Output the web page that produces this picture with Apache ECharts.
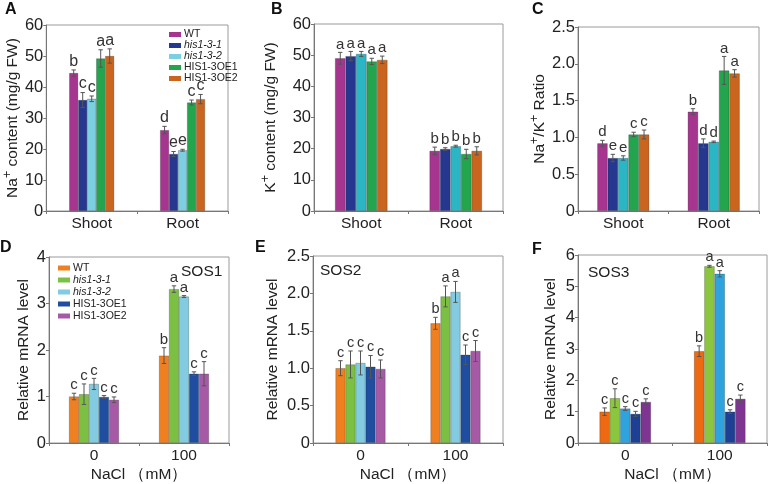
<!DOCTYPE html>
<html>
<head>
<meta charset="utf-8">
<script src="https://cdn.jsdelivr.net/npm/echarts@6/dist/echarts.min.js"></script>
<style>html,body{margin:0;padding:0;background:#fff}#c{width:769px;height:484px}</style>
</head>
<body>
<div id="c"></div>
<script>
// ---------- data ----------
const groups = ['WT', 'his1-3-1', 'his1-3-2', 'HIS1-3OE1', 'HIS1-3OE2'];
const tissues = ['Shoot', 'Root'];
const naclLevels = ['0', '100'];

// A: Na+ content (mg/g FW)
const naShoot = [44.5, 35.8, 36.2, 49.2, 50.0];
const naShootErr = [1.0, 2.4, 0.9, 2.8, 2.3];
const naRoot = [26.1, 18.4, 19.6, 35.0, 36.1];
const naRootErr = [1.2, 0.8, 0.3, 0.8, 1.5];
const naShootSig = ['b', 'c', 'c', 'a', 'a'];
const naRootSig = ['d', 'e', 'e', 'c', 'c'];

// B: K+ content (mg/g FW)
const kShoot = [49.0, 49.7, 50.4, 48.0, 48.5];
const kShootErr = [1.9, 1.5, 0.8, 1.0, 1.2];
const kRoot = [19.3, 19.9, 20.8, 18.3, 19.3];
const kRootErr = [1.2, 0.4, 0.3, 1.5, 1.3];
const kShootSig = ['a', 'a', 'a', 'a', 'a'];
const kRootSig = ['b', 'b', 'b', 'b', 'b'];

// C: Na+/K+ ratio
const ratioShoot = [0.92, 0.72, 0.72, 1.04, 1.04];
const ratioShootErr = [0.04, 0.05, 0.03, 0.03, 0.06];
const ratioRoot = [1.35, 0.92, 0.94, 1.91, 1.87];
const ratioRootErr = [0.04, 0.06, 0.01, 0.19, 0.05];
const ratioShootSig = ['d', 'e', 'e', 'c', 'c'];
const ratioRootSig = ['b', 'd', 'd', 'a', 'a'];

// D: SOS1 relative mRNA level
const sos1Ctrl = [1.00, 1.05, 1.27, 0.99, 0.93];
const sos1CtrlErr = [0.07, 0.22, 0.12, 0.03, 0.06];
const sos1Salt = [1.88, 3.31, 3.15, 1.49, 1.49];
const sos1SaltErr = [0.17, 0.07, 0.02, 0.04, 0.26];
const sos1CtrlSig = ['c', 'c', 'c', 'c', 'c'];
const sos1SaltSig = ['b', 'a', 'a', 'c', 'c'];

// E: SOS2 relative mRNA level
const sos2Ctrl = [1.00, 1.05, 1.07, 1.02, 0.99];
const sos2CtrlErr = [0.10, 0.18, 0.16, 0.15, 0.12];
const sos2Salt = [1.60, 1.96, 2.02, 1.18, 1.23];
const sos2SaltErr = [0.08, 0.14, 0.14, 0.13, 0.14];
const sos2CtrlSig = ['c', 'c', 'c', 'c', 'c'];
const sos2SaltSig = ['b', 'a', 'a', 'c', 'c'];

// F: SOS3 relative mRNA level
const sos3Ctrl = [1.00, 1.43, 1.10, 0.93, 1.31];
const sos3CtrlErr = [0.12, 0.30, 0.06, 0.08, 0.10];
const sos3Salt = [2.93, 5.64, 5.40, 1.00, 1.41];
const sos3SaltErr = [0.17, 0.03, 0.10, 0.06, 0.12];
const sos3CtrlSig = ['c', 'c', 'c', 'c', 'c'];
const sos3SaltSig = ['b', 'a', 'a', 'c', 'c'];

// y-axis tick ranges
const yA = {min: 0, max: 60, interval: 10};
const yC = {min: 0, max: 2.5, interval: 0.5};
const yD = {min: 0, max: 4, interval: 1};
const yF = {min: 0, max: 6, interval: 1};

// ---------- styling ----------
const FONT = '"Liberation Sans", Arial, sans-serif';
const palTop = ['#a6358f', '#25378f', '#7bcfe0', '#22a54d', '#c9651e'];
const palTopB = ['#a6358f', '#25378f', '#2bb6c6', '#22a54d', '#c9651e'];
const palBot = ['#f07f1f', '#7cc043', '#82cbe0', '#1f4d9f', '#a65aa6'];
const palBotF = ['#ee6a12', '#8cc63f', '#2ea3dd', '#1d3f94', '#7e3591'];

const panels = [
  {cats: tissues, vals: [naShoot, naRoot], errs: [naShootErr, naRootErr], sig: [naShootSig, naRootSig], y: yA,
   grid: {left: 43, top: 25, width: 185, height: 186}, bw: 9, pal: palTop, letterSize: 16,
   yname: '{t|Na}{s|+}{t| content (mg/g FW)}', nameGap: 21, fmt: v => String(v)},
  {cats: tissues, vals: [kShoot, kRoot], errs: [kShootErr, kRootErr], sig: [kShootSig, kRootSig], y: yA,
   grid: {left: 314, top: 24, width: 189, height: 187}, bw: 10.5, pal: palTopB, letterSize: 15,
   yname: '{t|K}{s|+}{t| content (mg/g FW)}', nameGap: 35, fmt: v => String(v)},
  {cats: tissues, vals: [ratioShoot, ratioRoot], errs: [ratioShootErr, ratioRootErr], sig: [ratioShootSig, ratioRootSig], y: yC,
   grid: {left: 578, top: 27, width: 181, height: 184}, bw: 10.4, pal: palTopB, letterSize: 15,
   yname: '{t|Na}{s|+}{t|/K}{s|+}{t| Ratio}', nameGap: 25, fmt: v => v === 0 ? '0' : v.toFixed(1)},
  {cats: naclLevels, vals: [sos1Ctrl, sos1Salt], errs: [sos1CtrlErr, sos1SaltErr], sig: [sos1CtrlSig, sos1SaltSig], y: yD,
   grid: {left: 49, top: 257, width: 180, height: 187}, bw: 10, pal: palBot, letterSize: 15,
   yname: '{t|Relative mRNA level}', nameGap: 17, fmt: v => String(v), xname: 'NaCl （mM）'},
  {cats: naclLevels, vals: [sos2Ctrl, sos2Salt], errs: [sos2CtrlErr, sos2SaltErr], sig: [sos2CtrlSig, sos2SaltSig], y: yC,
   grid: {left: 313, top: 256, width: 190, height: 187}, bw: 10, pal: palBot, letterSize: 14.5,
   yname: '{t|Relative mRNA level}', nameGap: 32, fmt: v => v === 0 ? '0' : v.toFixed(1), xname: 'NaCl （mM）'},
  {cats: naclLevels, vals: [sos3Ctrl, sos3Salt], errs: [sos3CtrlErr, sos3SaltErr], sig: [sos3CtrlSig, sos3SaltSig], y: yF,
   grid: {left: 578, top: 255, width: 189, height: 189}, bw: 10.3, pal: palBotF, letterSize: 14.5,
   yname: '{t|Relative mRNA level}', nameGap: 19, fmt: v => String(v), xname: 'NaCl （mM）'}
];

const grids = [], xAxes = [], yAxes = [], series = [];
panels.forEach((p, pi) => {
  grids.push(Object.assign({show: true, borderColor: '#9a9a9a', borderWidth: 1, backgroundColor: 'transparent'}, p.grid));
  xAxes.push({
    type: 'category', gridIndex: pi, data: p.cats,
    axisLine: {lineStyle: {color: '#777', width: 1}},
    axisTick: {show: true, length: 3, lineStyle: {color: '#777'}},
    axisLabel: {fontSize: 15.5, color: '#222', fontFamily: FONT, margin: 5},
    name: p.xname || '', nameLocation: 'middle', nameGap: 24,
    nameTextStyle: {fontSize: 15.5, color: '#222', fontFamily: FONT}
  });
  yAxes.push({
    type: 'value', gridIndex: pi, min: p.y.min, max: p.y.max, interval: p.y.interval,
    axisLine: {show: true, lineStyle: {color: '#777', width: 1}},
    axisTick: {show: true, length: 3, lineStyle: {color: '#777'}},
    splitLine: {show: false},
    axisLabel: {fontSize: 16.5, color: '#222', fontFamily: FONT, margin: 3, formatter: p.fmt},
    name: p.yname, nameLocation: 'middle', nameGap: p.nameGap,
    nameTextStyle: {
      fontFamily: FONT, color: '#222',
      rich: {
        t: {fontSize: 15.5, fontFamily: FONT, color: '#222', verticalAlign: 'bottom', lineHeight: 20},
        s: {fontSize: 12.5, fontFamily: FONT, color: '#222', verticalAlign: 'top', lineHeight: 20}
      }
    }
  });
  groups.forEach((g, k) => {
    series.push({
      type: 'bar', name: g, xAxisIndex: pi, yAxisIndex: pi,
      data: [p.vals[0][k], p.vals[1][k]],
      barWidth: p.bw, barGap: '0%',
      itemStyle: {color: p.pal[k], borderColor: 'rgba(40,40,40,0.45)', borderWidth: 0.6},
      silent: true
    });
  });
  const errData = [];
  const letters = [];
  [0, 1].forEach(c => {
    groups.forEach((g, k) => {
      errData.push([c, p.vals[c][k], p.errs[c][k], k]);
      letters.push(p.sig[c][k]);
    });
  });
  const bw = p.bw, ls = p.letterSize;
  series.push({
    type: 'custom', xAxisIndex: pi, yAxisIndex: pi, data: errData, z: 10, silent: true,
    encode: {x: 0, y: 1},
    renderItem: function (params, api) {
      const c = api.value(0), v = api.value(1), e = api.value(2), k = api.value(3);
      const base = api.coord([c, v]);
      const top = api.coord([c, v + e]);
      const bot = api.coord([c, v - e]);
      const x = base[0] + (k - 2) * bw;
      const cap = 2.2;
      const st = {stroke: '#555', lineWidth: 1};
      return {
        type: 'group',
        children: [
          {type: 'line', shape: {x1: x, y1: top[1], x2: x, y2: bot[1]}, style: st},
          {type: 'line', shape: {x1: x - cap, y1: top[1], x2: x + cap, y2: top[1]}, style: st},
          {type: 'line', shape: {x1: x - cap, y1: bot[1], x2: x + cap, y2: bot[1]}, style: st},
          {type: 'text', x: x, y: top[1] - 0.5,
           style: {text: letters[params.dataIndex], fontSize: ls, fontFamily: FONT, fill: '#333',
                   align: 'center', verticalAlign: 'bottom'}}
        ]
      };
    }
  });
});

function legendCfg(pal, left, top, gap, lh) {
  return {
    orient: 'vertical', left: left, top: top, icon: 'rect',
    itemWidth: 12, itemHeight: 5, itemGap: gap, selectedMode: false,
    data: groups.map((g, k) => ({name: g, itemStyle: {color: pal[k], borderWidth: 0}})),
    formatter: n => n.startsWith('his') ? '{i|' + n + '}' : '{n|' + n + '}',
    textStyle: {
      fontSize: 10.5, fontFamily: FONT, color: '#222', padding: [0, 0, 0, -2],
      rich: {
        i: {fontSize: 10.5, fontFamily: FONT, color: '#222', fontStyle: 'italic', lineHeight: lh, height: lh},
        n: {fontSize: 10.5, fontFamily: FONT, color: '#222', lineHeight: lh, height: lh}
      }
    }
  };
}

const letterStyle = {fontSize: 16, fontWeight: 'bold', fontFamily: FONT, fill: '#111'};
const graphic = [
  {type: 'text', left: 5, top: 2, style: Object.assign({text: 'A'}, letterStyle)},
  {type: 'text', left: 271, top: 2, style: Object.assign({text: 'B'}, letterStyle)},
  {type: 'text', left: 532, top: 2, style: Object.assign({text: 'C'}, letterStyle)},
  {type: 'text', left: 0, top: 240, style: Object.assign({text: 'D'}, letterStyle)},
  {type: 'text', left: 255, top: 240, style: Object.assign({text: 'E'}, letterStyle)},
  {type: 'text', left: 532, top: 242, style: Object.assign({text: 'F'}, letterStyle)},
  {type: 'text', left: 181, top: 264, style: {text: 'SOS1', fontSize: 15.5, fontFamily: FONT, fill: '#222'}},
  {type: 'text', left: 320, top: 263, style: {text: 'SOS2', fontSize: 15.5, fontFamily: FONT, fill: '#222'}},
  {type: 'text', left: 588, top: 265, style: {text: 'SOS3', fontSize: 15.5, fontFamily: FONT, fill: '#222'}}
];

const chart = echarts.init(document.getElementById('c'), null, {renderer: 'canvas'});
chart.setOption({
  animation: false,
  backgroundColor: '#fff',
  textStyle: {fontFamily: FONT},
  grid: grids,
  xAxis: xAxes,
  yAxis: yAxes,
  legend: [legendCfg(palTop, 164, 24, 0, 10.7), legendCfg(palBot, 53, 257, 0, 12)],
  graphic: graphic,
  series: series
});
</script>
</body>
</html>
